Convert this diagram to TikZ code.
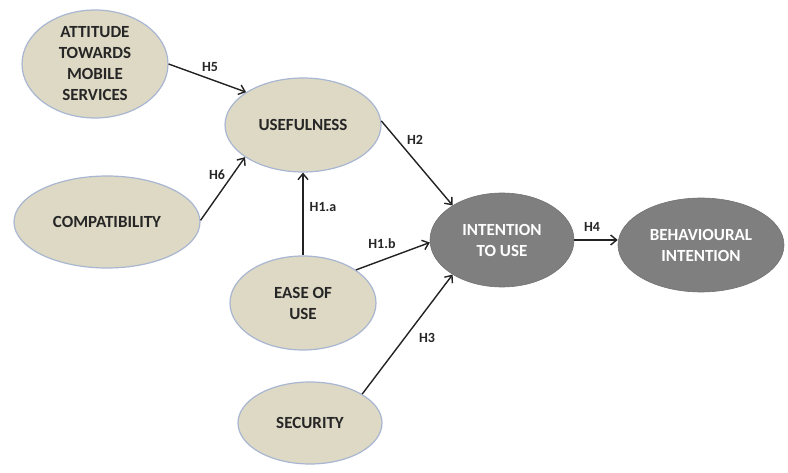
\documentclass[tikz,border=0pt]{standalone}
\usepackage{fontspec}
\setmainfont{Carlito}
\usetikzlibrary{shapes.geometric,arrows.meta}

\definecolor{tanfill}{HTML}{DDD9C4}
\definecolor{tanedge}{HTML}{A9B6D2}
\definecolor{darkfill}{HTML}{7F7F7F}
\definecolor{inktext}{HTML}{262626}

\tikzset{
  construct/.style={ellipse, inner sep=0pt, align=center,
    font=\fontsize{17}{21}\selectfont\bfseries},
  lightvar/.style={construct, fill=tanfill, draw=tanedge, line width=1.2pt, text=inktext},
  darkvar/.style={construct, fill=darkfill, draw=darkfill!90!black, line width=0.6pt, text=white},
  path/.style={draw=inktext!90!black, line width=1.4pt,
    -{Straight Barb[length=6pt,width=10pt,line width=1.4pt]}},
  hyp/.style={font=\fontsize{14}{16}\selectfont\bfseries, text=inktext, inner sep=0pt}
}

\begin{document}
\begin{tikzpicture}[x=1pt,y=-1pt]
  \useasboundingbox (0,0) rectangle (788,473);

  % constructs
  \node[lightvar, minimum width=146pt, minimum height=108pt] (att) at (95,64)
    {ATTITUDE\\TOWARDS\\MOBILE\\SERVICES};
  \node[lightvar, minimum width=156pt, minimum height=94pt] (use) at (303,125) {USEFULNESS};
  \node[lightvar, minimum width=186pt, minimum height=92pt] (comp) at (107,222) {COMPATIBILITY};
  \node[lightvar, minimum width=146pt, minimum height=94pt] (ease) at (303,303) {EASE OF\\USE};
  \node[lightvar, minimum width=144pt, minimum height=82pt] (sec) at (310,423) {SECURITY};
  \node[darkvar, minimum width=144pt, minimum height=94pt] (int) at (502,240) {INTENTION\\TO USE};
  \node[darkvar, minimum width=166pt, minimum height=94pt] (beh) at (701,245) {BEHAVIOURAL\\INTENTION};

  % hypothesised paths
  \draw[path] (att.0) -- (use.150);
  \draw[path] (comp.1) -- (use.209);
  \draw[path] (ease.90) -- (use.-90);
  \draw[path] (ease.32) -- (int.182);
  \draw[path] (use.3) -- (int.145);
  \draw[path] (sec.29) -- (int.215);
  \draw[path] (int.east) -- (int.east -| beh.west);

  % path labels
  \node[hyp] (h5) at (210,67) {H5};
  \node[hyp] (h6) at (217,175) {H6};
  \node[hyp] (h1a) at (323,207) {H1.a};
  \node[hyp] (h1b) at (382,244) {H1.b};
  \node[hyp] (h2) at (415,140) {H2};
  \node[hyp] (h3) at (427,338) {H3};
  \node[hyp] (h4) at (592,227) {H4};
\end{tikzpicture}
\end{document}
